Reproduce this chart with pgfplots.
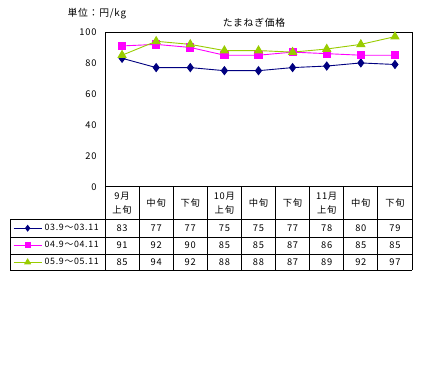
\documentclass[border=0pt]{standalone}
\usepackage{pgfplots}
\pgfplotsset{compat=1.18}
\usepackage{pgfplotstable}
\usepackage{fontspec}
\setmainfont{Noto Sans CJK JP}[LetterSpace=8]
\definecolor{sNavy}{HTML}{000080}
\definecolor{sMag}{HTML}{FF00FF}
\definecolor{sGrn}{HTML}{99CC00}
\pgfplotstableread{
x a b c
0 83 91 85
1 77 92 94
2 77 90 92
3 75 85 88
4 75 85 88
5 77 87 87
6 78 86 89
7 80 85 92
8 79 85 97
}\data
\begin{document}
\begin{tikzpicture}
\path[fill=white] (0pt,0pt) rectangle (430pt,-378pt);
\begin{axis}[
  at={(105pt,-186.7pt)}, anchor=south west,
  scale only axis, width=307pt, height=154.7pt,
  xmin=-0.5, xmax=8.5, ymin=0, ymax=100,
  ytick={0,20,...,100}, xtick={0,...,8},
  xticklabels={{9月\\上旬},中旬,下旬,{10月\\上旬},中旬,下旬,{11月\\上旬},中旬,下旬},
  xticklabel style={anchor=center, yshift=-16.3pt, align=center, font=\fontsize{9.3}{14}\selectfont},
  major tick length=0pt,
  axis line style={line width=0.8pt},
  /pgf/number format/assume math mode=true,
  yticklabel style={font=\fontsize{9.3}{10}\selectfont, xshift=-5pt},
  clip=false,
  legend cell align=left,
  legend image code/.code={\draw[mark repeat=2,mark phase=2,#1,every mark/.append style={scale=0.7}] plot coordinates {(0pt,0pt)(14pt,0pt)(28pt,0pt)};},
  legend style={at={(-0.2997,-0.212)}, anchor=north west, draw=none, fill=none,
    inner sep=0pt, row sep=0pt, column sep=2.5pt,
    nodes={inner sep=0pt, minimum height=17pt, font=\fontsize{8.8}{10}\selectfont}},
]
\addplot[sNavy, line width=0.9pt, mark=diamond*, mark size=4pt] table[x=x,y=a]{\data};
\addlegendentry{03.9～03.11}
\addplot[sMag, line width=0.9pt, mark=square*, mark size=3.6pt] table[x=x,y=b]{\data};
\addlegendentry{04.9～04.11}
\addplot[sGrn, line width=0.9pt, mark=triangle*, mark size=4.6pt] table[x=x,y=c]{\data};
\addlegendentry{05.9～05.11}
% table cells printed from the data
\addplot[draw=none, mark=none, nodes near coords, point meta=explicit symbolic,
  nodes near coords align=center, every node near coord/.append style={font=\fontsize{9.3}{10}\selectfont, anchor=center}, forget plot]
  table[x=x, y expr=-26.7, meta=a]{\data};
\addplot[draw=none, mark=none, nodes near coords, point meta=explicit symbolic,
  nodes near coords align=center, every node near coord/.append style={font=\fontsize{9.3}{10}\selectfont, anchor=center}, forget plot]
  table[x=x, y expr=-38.0, meta=b]{\data};
\addplot[draw=none, mark=none, nodes near coords, point meta=explicit symbolic,
  nodes near coords align=center, every node near coord/.append style={font=\fontsize{9.3}{10}\selectfont, anchor=center}, forget plot]
  table[x=x, y expr=-48.8, meta=c]{\data};
\end{axis}
% table grid
\draw[line width=0.8pt] (10pt,-219pt) -- (412pt,-219pt);
\draw[line width=0.8pt] (10pt,-237pt) -- (412pt,-237pt);
\draw[line width=0.8pt] (10pt,-254pt) -- (412pt,-254pt);
\draw[line width=0.8pt] (10pt,-270pt) -- (412pt,-270pt);
\draw[line width=0.8pt] (10pt,-219pt) -- (10pt,-270pt);
\foreach \k in {0,...,9} {\draw[line width=0.8pt] ({105pt+34.111pt*\k},-186.7pt) -- ({105pt+34.111pt*\k},-270pt);}
\node[font=\fontsize{9.8}{10}\selectfont, anchor=west] at (64pt,-14pt) {単位：円/kg};
\node[font=\fontsize{9.8}{10}\selectfont] at (254pt,-22.5pt) {たまねぎ価格};
\end{tikzpicture}
\end{document}
